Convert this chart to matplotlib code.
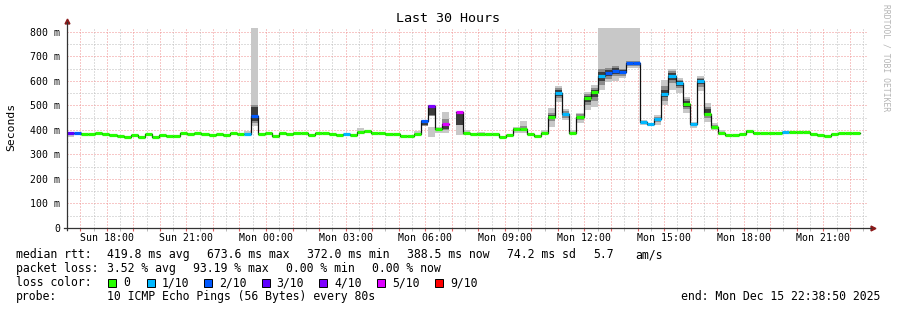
import numpy as np
import matplotlib
matplotlib.use("Agg")
import matplotlib.pyplot as plt
from matplotlib.patches import Rectangle

W, H = 897, 310
nan = np.nan

# time axis: hours since Sunday 00:00, 16 minute consolidated bins
bin_start_h = 16.5
bin_h = 16 / 60.0
view_start_h = 16 + 38 / 60 + 50 / 3600
view_end_h = view_start_h + 30

tick_hours = [18, 21, 24, 27, 30, 33, 36, 39, 42, 45]
tick_labels = ["Sun 18:00", "Sun 21:00", "Mon 00:00", "Mon 03:00", "Mon 06:00",
               "Mon 09:00", "Mon 12:00", "Mon 15:00", "Mon 18:00", "Mon 21:00"]

# median rtt per bin (ms)
median_ms = [
    387, 386, 383, 383, 389, 383, 378, 375, 372, 380,
    373, 384, 372, 381, 376, 376, 388, 382, 388, 384,
    381, 385, 381, 388, 384, 383, 458, 385, 386, 375,
    389, 385, 389, 389, 378, 386, 386, 382, 380, 384,
    378, 393, 395, 389, 389, 384, 384, 377, 377, 385,
    438, 499, 405, 424, nan, 472, 386, 383, 383, 383,
    383, 373, 378, 403, 403, 384, 376, 389, 455, 552,
    465, 389, 455, 532, 554, 620, 631, 641, 635, 672,
    672, 434, 424, 445, 548, 619, 591, 508, 426, 602,
    467, 412, 388, 378, 378, 384, 396, 386, 386, 386,
    386, 393, 391, 391, 391, 384, 380, 376, 383, 386,
    386, 389, nan,
]

# lost pings out of 10, bins not listed had no loss
loss_tenths = {0: 3, 1: 2, 25: 1, 26: 2, 39: 1, 50: 2, 51: 4, 53: 5, 55: 5,
               69: 1, 70: 1, 75: 1, 76: 2, 77: 2, 78: 2, 79: 2, 80: 2,
               81: 1, 82: 1, 83: 1, 84: 1, 85: 1, 86: 1, 88: 1, 89: 1, 101: 1}

# smoke bands per bin: (low ms, high ms, density level 0 light .. 2 dark)
smoke = {
    0: [(372, 388, 0)],
    25: [(380, 397, 0)],
    26: [(416, 900, 0), (430, 500, 1), (438, 493, 2)],
    41: [(388, 409, 0)],
    49: [(380, 396, 0)],
    50: [(418, 442, 1), (420, 436, 2)],
    51: [(373, 413, 0), (457, 503, 1), (460, 499, 2)],
    52: [(386, 413, 0)],
    53: [(386, 475, 0), (400, 445, 1), (405, 420, 2)],
    55: [(380, 420, 0), (420, 472, 2)],
    56: [(380, 400, 0)],
    58: [(378, 392, 0)],
    63: [(386, 413, 0), (395, 408, 1)],
    64: [(386, 437, 0), (395, 415, 1)],
    67: [(385, 400, 0)],
    68: [(414, 489, 0), (435, 470, 1), (445, 462, 2)],
    69: [(516, 580, 0), (530, 570, 1), (540, 562, 2)],
    70: [(441, 484, 0), (450, 478, 1)],
    71: [(383, 400, 0)],
    72: [(427, 471, 0), (440, 465, 1)],
    73: [(482, 557, 0), (500, 545, 1), (515, 540, 2)],
    74: [(495, 584, 0), (520, 570, 1), (535, 562, 2)],
    75: [(563, 900, 0), (585, 650, 1), (600, 635, 2)],
    76: [(597, 900, 0), (610, 655, 1), (620, 645, 2)],
    77: [(600, 900, 0), (620, 660, 1), (630, 652, 2)],
    78: [(612, 900, 0), (620, 650, 1), (628, 645, 2)],
    79: [(655, 900, 0), (662, 680, 1)],
    80: [(655, 900, 0), (660, 680, 1)],
    81: [(422, 440, 0)],
    82: [(418, 430, 0)],
    83: [(420, 461, 0), (432, 455, 1)],
    84: [(502, 604, 0), (520, 580, 1), (535, 565, 2)],
    85: [(563, 648, 0), (590, 640, 1), (605, 632, 2)],
    86: [(550, 611, 0), (570, 605, 1), (580, 598, 2)],
    87: [(468, 533, 0), (485, 525, 1), (495, 518, 2)],
    88: [(409, 434, 0)],
    89: [(560, 620, 0), (575, 612, 1), (588, 608, 2)],
    90: [(434, 512, 0), (448, 495, 1), (458, 485, 2)],
    91: [(400, 430, 0), (405, 422, 1)],
    92: [(380, 400, 0)],
    96: [(388, 402, 0)],
}

loss_names = ["0", "1/10", "2/10", "3/10", "4/10", "5/10", "9/10"]
loss_colors = ["#26ff00", "#00b8ff", "#0059ff", "#5e00ff", "#7e00ff", "#dd00ff", "#ff0000"]
shades = ["#c8c8c8", "#8c8c8c", "#3c3c3c"]

stats_rtt = [("median rtt:", 16), ("419.8 ms avg", 106.7), ("673.6 ms max", 206.7),
             ("372.0 ms min", 306.7), ("388.5 ms now", 406.7), ("74.2 ms sd", 506.7),
             ("5.7", 593.3), ("am/s", 635)]
stats_loss = [("packet loss:", 16), ("3.52 % avg", 106.7), ("93.19 % max", 193.3),
              ("0.00 % min", 286), ("0.00 % now", 371.7)]
probe_text = "10 ICMP Echo Pings (56 Bytes) every 80s"
end_text = "end: Mon Dec 15 22:38:50 2025"

mono = "DejaVu Sans Mono"
plt.rcParams["font.family"] = mono

med = np.array(median_ms, dtype=float)
nb = len(med)
edges = bin_start_h + bin_h * np.arange(nb + 1)
cls = []
for i in range(nb):
    l = loss_tenths.get(i, 0)
    cls.append(l if l <= 5 else (5 if l < 9 else 6))

fig = plt.figure(figsize=(W / 100, H / 100), dpi=100)
ax = fig.add_axes([67 / W, 1 - 228 / H, 800 / W, 200 / H])
ax.set_xlim(view_start_h, view_end_h)
ax.set_ylim(0, 816.3)

# grid
ax.set_xticks(np.arange(17, 47), minor=False)
ax.set_xticks(np.arange(16.5, 47, 1.0), minor=True)
ax.set_yticks(np.arange(0, 801, 100))
ax.set_yticks(np.arange(50, 801, 100), minor=True)
ax.grid(which="major", color="#f09090", ls=(0, (1, 2)), lw=0.72)
ax.grid(which="minor", color="#bcbcbc", ls=(0, (1, 2)), lw=0.72)
ax.set_axisbelow(True)
lab = dict(zip(tick_hours, tick_labels))
ax.set_xticklabels([lab.get(h, "") for h in range(17, 47)], fontsize=7.1)
ax.set_yticklabels(["0"] + ["%d m" % v for v in range(100, 801, 100)], fontsize=7.1)
ax.tick_params(axis="x", which="major", length=2.5, color="#e06060", pad=1)
ax.tick_params(axis="x", which="minor", length=2, color="#b0b0b0")
ax.tick_params(axis="y", which="both", length=0, pad=5)
for s in ax.spines.values():
    s.set_visible(False)

# smoke
for i, bands in smoke.items():
    for lo, hi, lev in bands:
        ax.bar(edges[i], hi - lo, bottom=lo, width=bin_h, align="edge",
               color=shades[lev], lw=0, zorder=2)

# median: black step plus loss coloured segments
ax.step(edges, np.append(med, med[-1]), where="post", color="#111111", lw=0.9, zorder=3)
ax.hlines(med, edges[:-1], edges[1:], colors=[loss_colors[c] for c in cls], lw=2.3, zorder=4)

# axis lines with arrows
ax.plot([0, 0], [-0.012, 1.03], transform=ax.transAxes, color="#333333", lw=0.9, clip_on=False, zorder=5)
ax.plot([-0.004, 1.005], [0, 0], transform=ax.transAxes, color="#333333", lw=0.9, clip_on=False, zorder=5)
ax.plot([0], [1.035], marker="^", ms=3.5, color="#8b1a1a", transform=ax.transAxes, clip_on=False)
ax.plot([1.007], [0], marker=">", ms=3.5, color="#8b1a1a", transform=ax.transAxes, clip_on=False)

# texts
fig.text(448 / W, 1 - 19 / H, "Last 30 Hours", ha="center", va="center", fontsize=9.6)
fig.text(11 / W, 1 - 127 / H, "Seconds", rotation=90, ha="center", va="center", fontsize=8.2)
fig.text(886 / W, 1 - 4 / H, "RRDTOOL / TOBI OETIKER", rotation=-90, ha="center", va="top",
         fontsize=5.8, color="#b4b4b4")

fs = 8.3
for txt, x in stats_rtt:
    fig.text(x / W, 1 - 254.5 / H, txt, ha="left", va="center", fontsize=fs)
for txt, x in stats_loss:
    fig.text(x / W, 1 - 268.5 / H, txt, ha="left", va="center", fontsize=fs)
fig.text(16 / W, 1 - 282.5 / H, "loss color:", ha="left", va="center", fontsize=fs)
box_x = [108.3, 146.7, 204, 261.7, 319.3, 377.3, 435]
for bx, name, col in zip(box_x, loss_names, loss_colors):
    fig.add_artist(Rectangle((bx / W, 1 - 286.5 / H), 8 / W, 8 / H, transform=fig.transFigure,
                             facecolor=col, edgecolor="black", lw=0.7))
    fig.text((bx + 15) / W, 1 - 282.5 / H, name, ha="left", va="center", fontsize=fs)
fig.text(16 / W, 1 - 296.5 / H, "probe:", ha="left", va="center", fontsize=fs)
fig.text(106.7 / W, 1 - 296.5 / H, probe_text, ha="left", va="center", fontsize=fs)
fig.text(880 / W, 1 - 296.5 / H, end_text, ha="right", va="center", fontsize=fs)

fig.savefig("out.png", dpi=100, facecolor="white")
